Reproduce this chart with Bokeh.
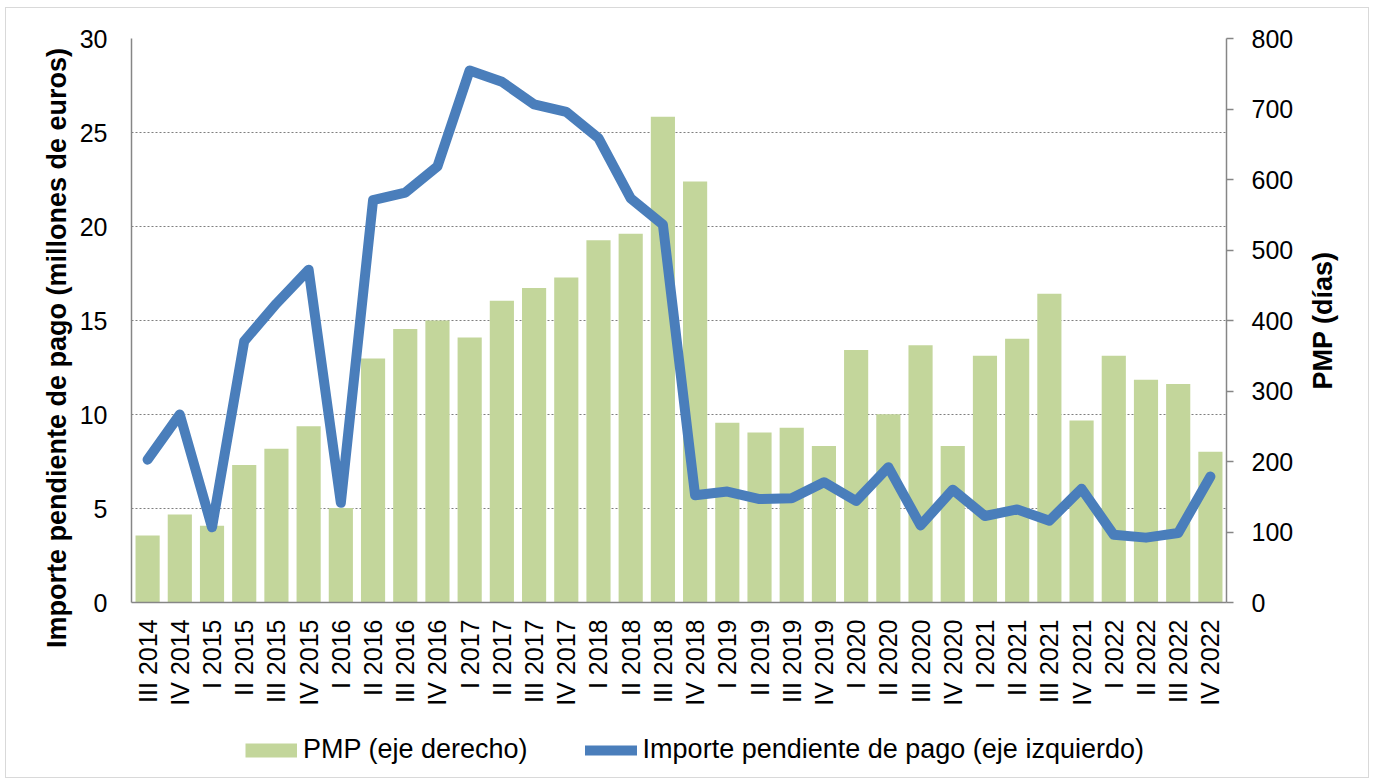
import math
from bokeh.plotting import figure
from bokeh.layouts import column
from bokeh.models import (Range1d, LinearAxis, Legend, LegendItem,
                          ColumnDataSource, SingleIntervalTicker, FixedTicker)
from bokeh.embed import file_html
from bokeh.resources import INLINE

quarters = ["III 2014", "IV 2014",
            "I 2015", "II 2015", "III 2015", "IV 2015",
            "I 2016", "II 2016", "III 2016", "IV 2016",
            "I 2017", "II 2017", "III 2017", "IV 2017",
            "I 2018", "II 2018", "III 2018", "IV 2018",
            "I 2019", "II 2019", "III 2019", "IV 2019",
            "I 2020", "II 2020", "III 2020", "IV 2020",
            "I 2021", "II 2021", "III 2021", "IV 2021",
            "I 2022", "II 2022", "III 2022", "IV 2022"]

# PMP (days) - right axis
pmp_dias = [95, 125,
            109, 195, 218, 250,
            134, 346, 388, 400,
            376, 428, 446, 461,
            514, 523, 689, 597,
            255, 241, 248, 222,
            358, 267, 365, 222,
            350, 374, 438, 258,
            350, 316, 310, 214]

# Importe pendiente de pago (millones de euros) - left axis
importe_meur = [7.6, 10.0,
                4.0, 13.9, 15.9, 17.7,
                5.3, 21.4, 21.8, 23.2,
                28.3, 27.7, 26.5, 26.1,
                24.7, 21.5, 20.1, 5.7,
                5.9, 5.5, 5.55, 6.4,
                5.4, 7.2, 4.1, 6.0,
                4.6, 4.95, 4.35, 6.05,
                3.6, 3.45, 3.7, 6.7]

series_names = ["PMP (eje derecho)", "Importe pendiente de pago (eje izquierdo)"]
left_title = "Importe pendiente de pago (millones de euros)"
right_title = "PMP (días)"

left_ticks_interval = 5
right_ticks_interval = 100

FONT = "Liberation Sans"
AXIS_COLOR = "#868686"
BAR_COLOR = "#c3d69b"
LINE_COLOR = "#4a7ebb"
LINE_W = 10

source = ColumnDataSource(dict(q=quarters, pmp=pmp_dias, imp=importe_meur))

W = 1362
p = figure(x_range=quarters, y_range=Range1d(0, 30),
           width=W, height=702,
           output_backend="svg", toolbar_location=None,
           min_border_left=125, min_border_right=142,
           min_border_top=30, min_border_bottom=108)
p.outline_line_color = None
p.background_fill_color = "white"
p.border_fill_color = "white"
p.extra_y_ranges = {"dias": Range1d(0, 800)}

bars = p.vbar(x="q", top="pmp", width=0.75, source=source, y_range_name="dias",
              fill_color=BAR_COLOR, line_color=None)
line = p.line(x="q", y="imp", source=source, line_color=LINE_COLOR,
              line_width=LINE_W, line_join="round", line_cap="round")

# grid
p.xgrid.visible = False
p.ygrid.grid_line_color = "#7f7f7f"
p.ygrid.grid_line_dash = "2 2"
p.ygrid.grid_line_width = 1
p.ygrid.ticker = SingleIntervalTicker(interval=left_ticks_interval)


def style_ticks(ax, size="25px"):
    ax.major_label_text_font = FONT
    ax.major_label_text_font_size = size
    ax.major_label_text_color = "black"
    ax.minor_tick_out = 0
    ax.minor_tick_in = 0
    ax.major_tick_in = 0


# left axis
ya = p.yaxis[0]
ya.ticker = SingleIntervalTicker(interval=left_ticks_interval)
ya.axis_line_color = AXIS_COLOR
ya.axis_line_width = 1.5
ya.major_tick_out = 0
ya.major_label_standoff = 24
style_ticks(ya)

# left title (outer axis carrying only the title text)
lt = LinearAxis(ticker=FixedTicker(ticks=[29.5]),
                major_label_overrides={29.5: left_title})
lt.axis_line_color = None
lt.major_tick_line_color = None
lt.minor_tick_line_color = None
lt.major_tick_out = 0
lt.major_label_standoff = 19
lt.major_label_orientation = math.pi / 2
style_ticks(lt, "27px")
lt.major_label_text_font_style = "bold"
p.add_layout(lt, "left")

# right axis
ra = LinearAxis(y_range_name="dias",
                ticker=SingleIntervalTicker(interval=right_ticks_interval))
ra.axis_line_color = AXIS_COLOR
ra.axis_line_width = 1.5
ra.major_tick_line_color = AXIS_COLOR
ra.major_tick_line_width = 1.5
ra.major_tick_out = 7
ra.major_label_standoff = 18
style_ticks(ra)
p.add_layout(ra, "right")

# right title (outer axis carrying only the title text)
rt = LinearAxis(y_range_name="dias", ticker=FixedTicker(ticks=[302]),
                major_label_overrides={302: right_title})
rt.axis_line_color = None
rt.major_tick_line_color = None
rt.minor_tick_line_color = None
rt.major_tick_out = 0
rt.major_label_standoff = 27
rt.major_label_orientation = math.pi / 2
style_ticks(rt, "27px")
rt.major_label_text_font_style = "bold"
p.add_layout(rt, "right")

# x axis
xa = p.xaxis[0]
xa.axis_line_color = AXIS_COLOR
xa.axis_line_width = 1.5
xa.major_tick_out = 0
xa.major_label_standoff = 17
xa.major_label_orientation = math.pi / 2
style_ticks(xa)

# legend strip below the chart: the same series drawn out of view, legend only
lf = figure(x_range=quarters, y_range=Range1d(-20, -10), width=W, height=67,
            output_backend="svg", toolbar_location=None,
            min_border_left=0, min_border_right=0, min_border_top=0,
            min_border_bottom=0)
lf.axis.visible = False
lf.grid.visible = False
lf.outline_line_color = None
lf.background_fill_color = "white"
lf.border_fill_color = "white"
lbars = lf.line(x="q", y="pmp", source=source, line_color=BAR_COLOR,
                line_width=14, line_cap="butt")
lline = lf.line(x="q", y="imp", source=source, line_color=LINE_COLOR,
                line_width=LINE_W, line_join="round", line_cap="round")
legend = Legend(items=[LegendItem(label=series_names[0], renderers=[lbars]),
                       LegendItem(label=series_names[1], renderers=[lline])],
                orientation="horizontal", location=(114, 12),
                glyph_width=52, glyph_height=18, label_standoff=6, spacing=57,
                padding=0, margin=0, border_line_color=None,
                background_fill_alpha=0,
                label_text_font=FONT, label_text_font_size="27px",
                label_text_color="black")
lf.add_layout(legend, "center")

root = column(p, lf, spacing=0,
              styles={"border": "1px solid #d9d9d9", "margin-left": "5px",
                      "margin-top": "7px"})

open("out.html", "w").write(file_html(root, INLINE))
